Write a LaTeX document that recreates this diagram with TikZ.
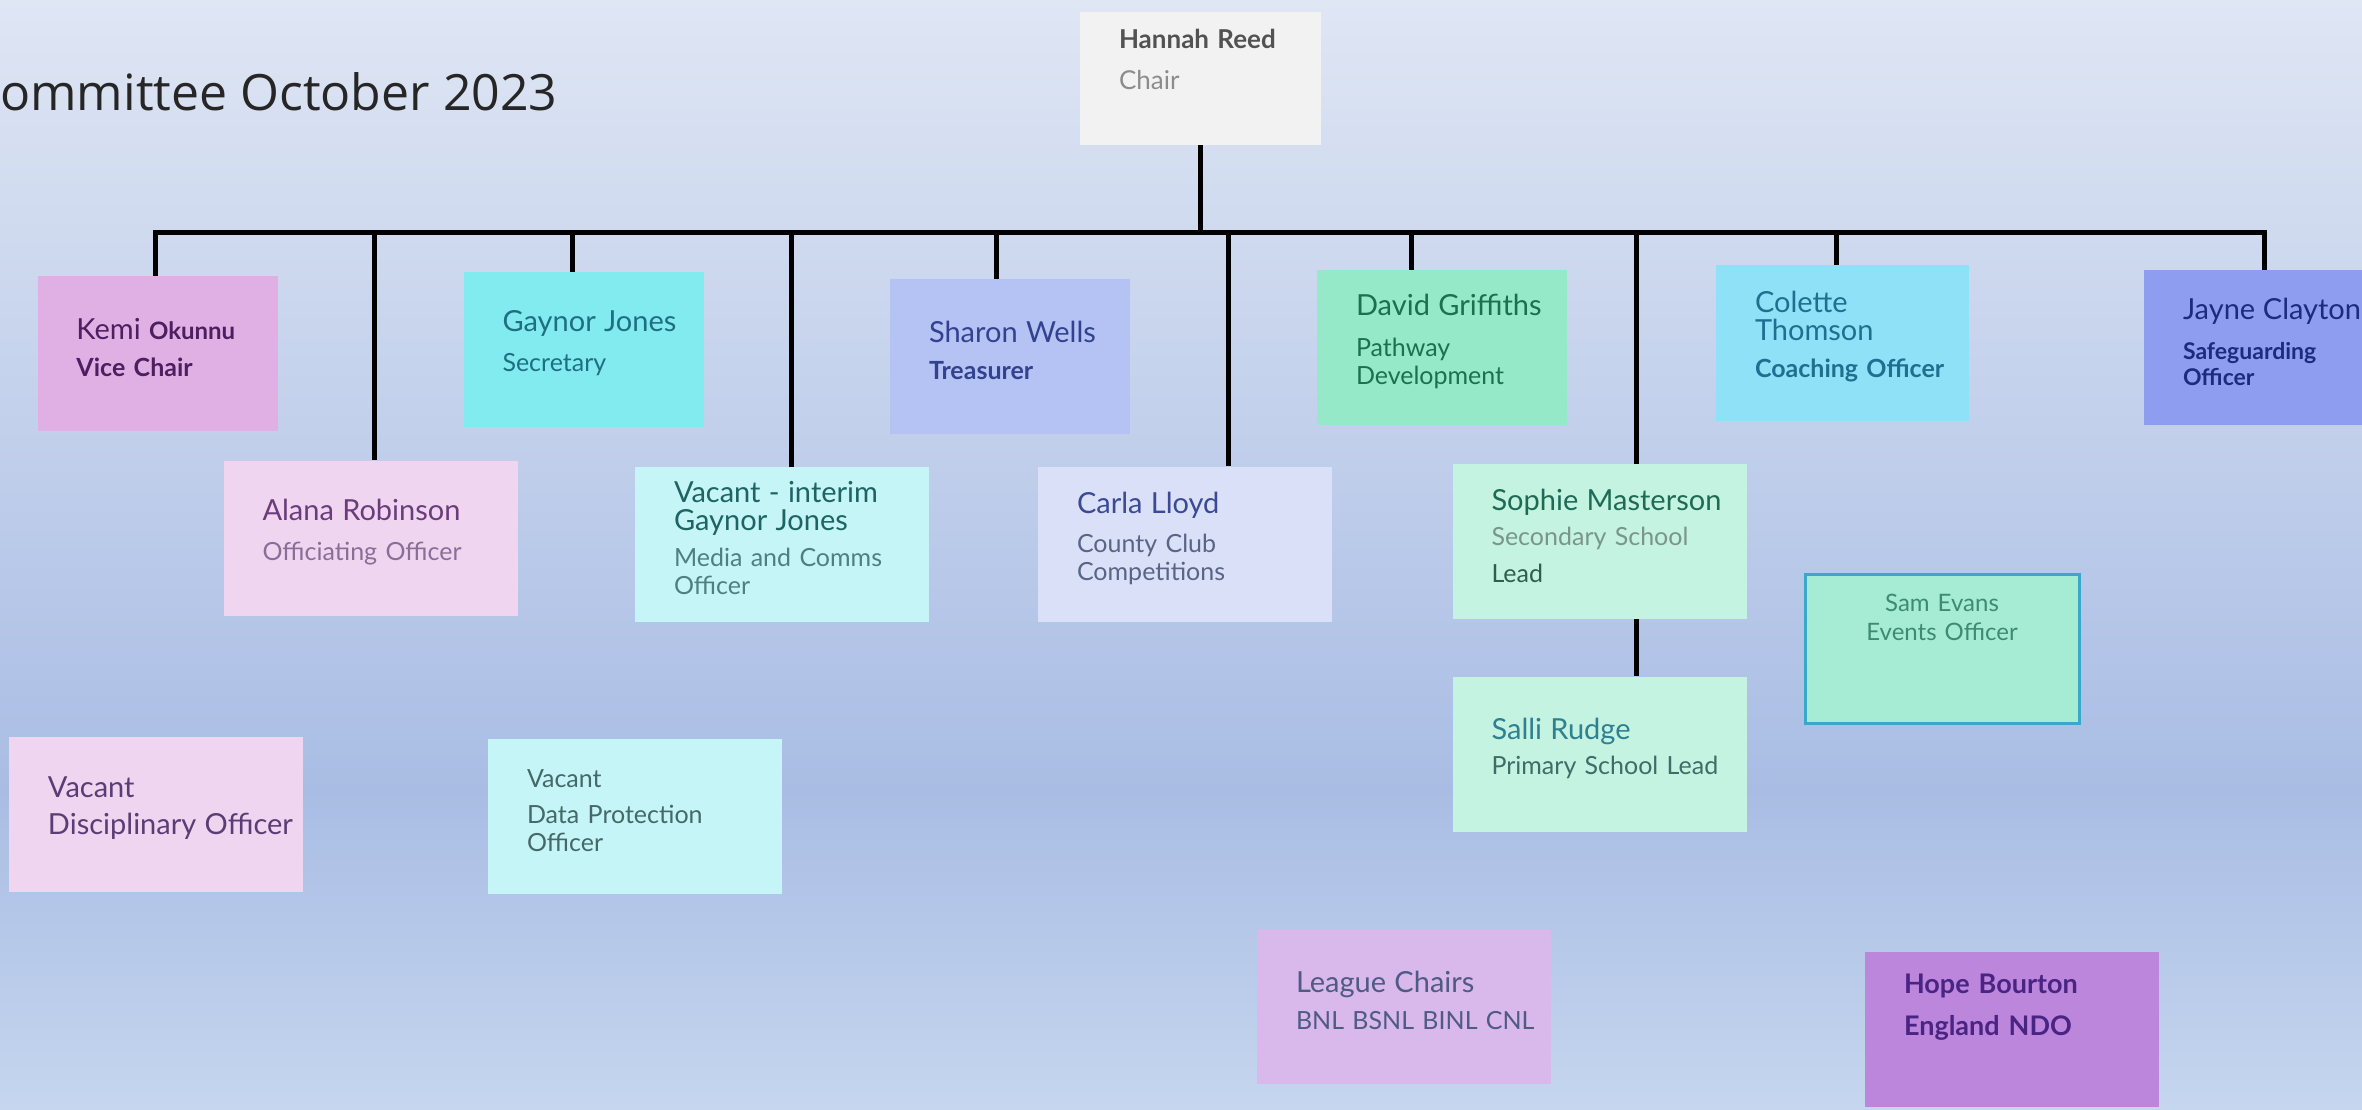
\documentclass[tikz,border=0pt]{standalone}
\usepackage{fontspec}
\setmainfont{Lato}
\newfontfamily\titlefont{Open Sans}
\definecolor{bgtop}{HTML}{DFE6F4}
\definecolor{bgmid}{HTML}{A9BDE4}
\definecolor{bgbot}{HTML}{C6D6EF}
\definecolor{chairfill}{HTML}{F2F2F2}
\definecolor{kemifill}{HTML}{E0B0E5}
\definecolor{gaynorfill}{HTML}{82EBF0}
\definecolor{sharonfill}{HTML}{B4C3F3}
\definecolor{davidfill}{HTML}{95E9C8}
\definecolor{colettefill}{HTML}{8FE1F7}
\definecolor{jaynefill}{HTML}{8E9DF0}
\definecolor{alanafill}{HTML}{F0D5F1}
\definecolor{aquafill}{HTML}{C5F5F7}
\definecolor{carlafill}{HTML}{D9E0F8}
\definecolor{mintfill}{HTML}{C5F3E1}
\definecolor{samfill}{HTML}{A6ECD4}
\definecolor{samline}{HTML}{3AA8C8}
\definecolor{leaguefill}{HTML}{D9B9EC}
\definecolor{hopefill}{HTML}{BD86DD}
% text colours
\definecolor{kemitext}{HTML}{4D1F60}
\definecolor{gaynortext}{HTML}{1E7080}
\definecolor{sharontext}{HTML}{33428F}
\definecolor{davidtext}{HTML}{1E6E50}
\definecolor{colettetext}{HTML}{1F7090}
\definecolor{jaynetext}{HTML}{1E2A80}
\definecolor{alanatext}{HTML}{6A3C7C}
\definecolor{alanarole}{HTML}{8A6E98}
\definecolor{interimtext}{HTML}{1E6464}
\definecolor{interimrole}{HTML}{4F7F80}
\definecolor{carlatext}{HTML}{3B4A95}
\definecolor{carlarole}{HTML}{5C6486}
\definecolor{sophietext}{HTML}{1F6A55}
\definecolor{sophierole}{HTML}{7A968A}
\definecolor{sophielead}{HTML}{2F5E4E}
\definecolor{sallitext}{HTML}{2F8090}
\definecolor{sallirole}{HTML}{3E6D68}
\definecolor{samtext}{HTML}{3F8A70}
\definecolor{disctext}{HTML}{5C3C74}
\definecolor{dataprottext}{HTML}{456868}
\definecolor{leaguetext}{HTML}{4F5B84}
\definecolor{hopetext}{HTML}{4A2482}
\newcommand\rolefont{\fontsize{25}{28}\selectfont}
\newcommand\pname[1]{{\fontsize{29}{32}\selectfont #1}}
\tikzset{
  postbox/.style={
    rectangle, align=left, inner sep=0pt,
    minimum height=155pt, font=\rolefont,
    execute at begin node={\leftskip=39pt},
    execute at end node={\par\kern12pt}
  },
  narrow/.style={text width=240pt},
  wide/.style={text width=294pt},
  link/.style={line width=5pt, black}
}
\begin{document}
\begin{tikzpicture}[x=1pt, y=-1pt]
  \useasboundingbox (0,0) rectangle (2362,1110);
  \clip (0,0) rectangle (2362,1110);
  % background
  \fill[top color=bgtop, bottom color=bgmid] (0,0) rectangle (2362,790);
  \fill[top color=bgmid, bottom color=bgbot] (0,790) rectangle (2362,1110);
  \node[anchor=west, inner sep=0pt, font=\titlefont\fontsize{50}{54}\selectfont, text=black!85] (title) at (0,92) {ommittee October 2023};

  % chair
  \node[postbox, fill=chairfill, text width=241pt, text height=37pt, text depth=96pt, minimum height=0pt, text=black!68] (hannah) at (1200.5,78.5) {{\fontsize{26}{30}\selectfont\bfseries Hannah Reed}\\[13pt]{\color{black!45}\fontsize{26}{28}\selectfont Chair}};

  % first row
  \node[postbox, narrow, fill=kemifill, text=kemitext] (kemi) at (157.5,353.5) {\pname{Kemi {\bfseries\fontsize{24}{27}\selectfont Okunnu}}\\[9pt]\textbf{Vice Chair}};
  \node[postbox, narrow, fill=gaynorfill, text=gaynortext] (gaynor) at (583.5,349.5) {\pname{Gaynor Jones}\\[12pt]Secretary};
  \node[postbox, narrow, fill=sharonfill, text=sharontext] (sharon) at (1010,356.5) {\pname{Sharon Wells}\\[9pt]\textbf{Treasurer}};
  \node[postbox, text width=250pt, fill=davidfill, text=davidtext] (david) at (1442,347.5) {\pname{David Griffiths}\\[13pt]Pathway\\Development};
  \node[postbox, text width=253pt, fill=colettefill, text=colettetext] (colette) at (1842.5,343) {\pname{Colette\\Thomson}\\[9pt]\textbf{Coaching Officer}};
  \node[postbox, text width=250pt, fill=jaynefill, text=jaynetext, font=\fontsize{23}{26}\selectfont] (jayne) at (2269,347.5) {\pname{Jayne Clayton}\\[14pt]\textbf{Safeguarding\\Officer}};

  % second row
  \node[postbox, wide, fill=alanafill, text=alanatext] (alana) at (370.5,538) {\pname{Alana Robinson}\\[12pt]{\color{alanarole}Officiating Officer}};
  \node[postbox, wide, fill=aquafill, text=interimtext] (interim) at (782,544.5) {\pname{Vacant - interim\\Gaynor Jones}\\[8pt]{\color{interimrole}Media and Comms\\Officer}};
  \node[postbox, wide, fill=carlafill, text=carlatext] (carla) at (1185,544) {\pname{Carla Lloyd}\\[11pt]{\color{carlarole}County Club\\Competitions}};
  \node[postbox, wide, fill=mintfill, text=sophietext] (sophie) at (1599.5,541.5) {\pname{Sophie Masterson}\\[7pt]{\color{sophierole}Secondary School}\\[9pt]{\color{sophielead}Lead}};
  \node[postbox, wide, fill=mintfill, text=sallitext] (salli) at (1599.5,754) {\pname{Salli Rudge}\\[7pt]{\color{sallirole}Primary School Lead}};
  \node[rectangle, align=center, inner sep=0pt, text width=274pt, text height=37pt, text depth=112pt, fill=samfill, draw=samline, line width=3pt, text=samtext, font=\fontsize{24}{29}\selectfont] (sam) at (1942,648.5) {Sam Evans\\Events Officer};

  % not linked
  \node[postbox, wide, fill=alanafill, text=disctext] (disciplinary) at (156,814.5) {\pname{Vacant}\\[9pt]\pname{Disciplinary Officer}};
  \node[postbox, wide, fill=aquafill, text=dataprottext] (dataprot) at (635,816.5) {Vacant\\[8pt]Data Protection\\Officer};
  \node[postbox, wide, fill=leaguefill, text=leaguetext] (league) at (1404,1006) {\pname{League Chairs}\\[9pt]BNL BSNL BINL CNL};
  \node[postbox, wide, fill=hopefill, text height=41pt, text depth=114pt, minimum height=0pt, text=hopetext, font=\fontsize{27}{42}\selectfont\bfseries] (hope) at (2012,1029.5) {Hope Bourton\\England NDO};

  % links
  \coordinate (bus) at (1204,233);
  \draw[link] (hannah.south) -- (hannah.south |- bus);
  \foreach \who/\dx in {kemi/-2.5, alana/3.5, gaynor/-11.5, interim/9, sharon/-14, carla/43, david/-31, sophie/36.5, colette/-6.5, jayne/-5}
    \draw[link] (bus) -| ([xshift=\dx]\who.north);
  \draw[link] ([xshift=36.5]sophie.south) -- ([xshift=36.5]salli.north);
\end{tikzpicture}
\end{document}
